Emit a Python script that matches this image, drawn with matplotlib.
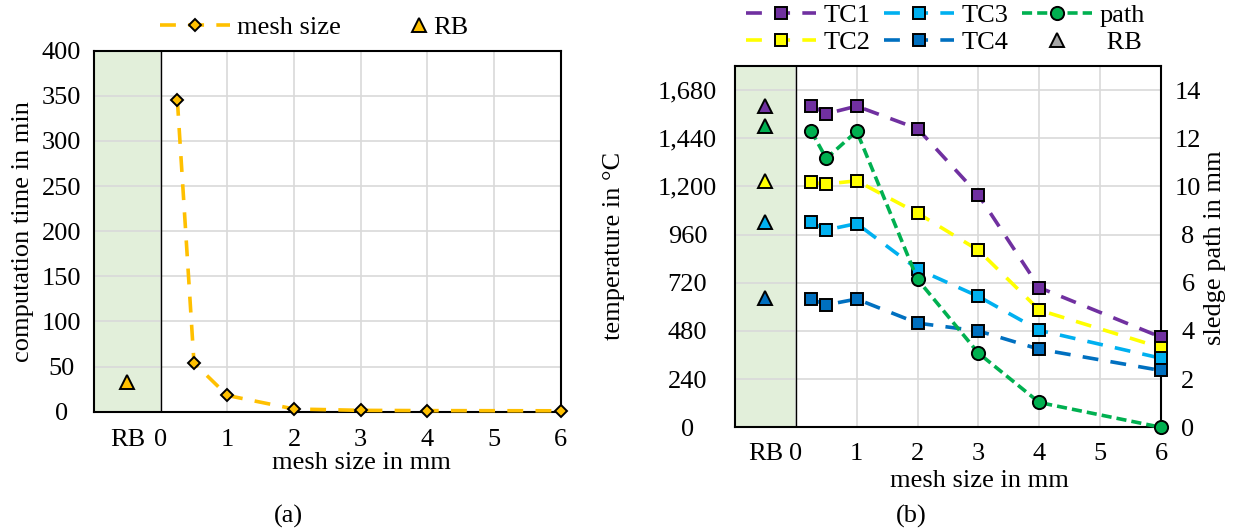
import matplotlib
matplotlib.use("Agg")
import matplotlib.pyplot as plt
from matplotlib.lines import Line2D

FS = 19
plt.rcParams['font.family'] = ['Liberation Serif', 'DejaVu Serif']
plt.rcParams['font.size'] = FS

# ---------------- data ----------------
mesh_sizes = [0.25, 0.5, 1, 2, 3, 4, 6]
comp_time = [345.5, 54, 18, 3, 1.5, 1.2, 1]
rb_comp_time = 33

tc1 = [1603, 1562, 1600, 1488, 1158, 696, 449]
tc2 = [1220, 1212, 1228, 1067, 882, 584, 397]
tc3 = [1021, 983, 1015, 788, 652, 483, 344]
tc4 = [639, 610, 639, 519, 480, 389, 283]
sledge_path = [12.31, 11.16, 12.29, 6.14, 3.08, 1.03, 0]
rb_temps = [1603, 1225, 1022, 646]      # TC1..TC4 of RB
rb_path = 12.51

rb_x = -0.5
x_ticks = [0, 1, 2, 3, 4, 5, 6]
x_tick_labels = ['0', '1', '2', '3', '4', '5', '6']
rb_label = 'RB'
time_ticks = [0, 50, 100, 150, 200, 250, 300, 350, 400]
temp_ticks = [0, 240, 480, 720, 960, 1200, 1440, 1680]
temp_tick_labels = ['0', '240', '480', '720', '960', '1,200', '1,440', '1,680']
path_ticks = [0, 2, 4, 6, 8, 10, 12, 14]

# ---------------- styles ----------------
ORANGE = '#FFC000'
PURPLE = '#7030A0'
YELLOW = '#FFFF00'
LBLUE = '#00B0F0'
BLUE = '#0070C0'
GREEN = '#00B050'
GRAY = '#A5A5A5'
RB_BG = '#E2EFDA'
GRID = '#D9D9D9'
LW = 2.6
DASH = (4.4, 3.4)
DASH_PATH = (2.8, 1.4)
EM = FS * 100 / 72.0   # font size in pixels

W, H = 1239, 531
fig = plt.figure(figsize=(W / 100, H / 100), dpi=100)


def rect(x0, x1, ytop, ybot):
    return [x0 / W, 1 - ybot / H, (x1 - x0) / W, (ybot - ytop) / H]


def style_axes(ax, ylim, yticks, ylabels, ypad, xpad):
    ax.set_xlim(-1, 6)
    ax.set_ylim(*ylim)
    ax.axvspan(-1, 0, color=RB_BG, zorder=0, lw=0)
    ax.axvline(0, color='black', lw=1.0, zorder=1.5)
    ax.set_xticks(x_ticks)
    ax.set_xticklabels(x_tick_labels)
    ax.set_xticks([rb_x], minor=True)
    ax.set_xticklabels([rb_label], minor=True)
    ax.set_yticks(yticks)
    ax.set_yticklabels(ylabels)
    ax.grid(True, which='major', color=GRID, lw=1.2, zorder=0.5)
    ax.set_axisbelow(True)
    ax.tick_params(axis='x', which='both', length=0, pad=xpad, labelsize=FS)
    ax.tick_params(axis='y', which='both', length=0, pad=ypad, labelsize=FS)
    for lab in ax.get_yticklabels():
        lab.set_horizontalalignment('center')
    for sp in ax.spines.values():
        sp.set_color('black')
        sp.set_linewidth(1.5)
        sp.set_zorder(2.5)


# ================= (a) =================
ax1 = fig.add_axes(rect(94, 560.7, 50.7, 411.7))
style_axes(ax1, (0, 400), time_ticks, [str(t) for t in time_ticks], 23.3, 12.5)
l_mesh, = ax1.plot(mesh_sizes, comp_time, color=ORANGE, lw=LW, dashes=DASH,
                   marker='D', ms=6.5, mfc=ORANGE, mec='black', mew=1.4,
                   clip_on=False, zorder=4, label='mesh size')
l_rb1, = ax1.plot([rb_x], [rb_comp_time], ls='none', marker='^', ms=9.5,
                  mfc=ORANGE, mec='black', mew=1.4, clip_on=False, zorder=4,
                  label='RB')
ax1.set_xlabel('mesh size in mm')
ax1.xaxis.label.set_va('center')
ax1.xaxis.set_label_coords(0.574, -0.142)
ax1.set_ylabel('computation time in min')
ax1.yaxis.label.set_va('center')
ax1.yaxis.set_label_coords(-0.152, 0.4997)

leg_a1 = fig.legend(handles=[l_mesh], loc='center left',
                    bbox_to_anchor=(160 / W, 1 - 27.6 / H), frameon=False,
                    borderpad=0, handlelength=70 / EM, handletextpad=7 / EM,
                    fontsize=FS, borderaxespad=0)
leg_a2 = fig.legend(handles=[l_rb1], loc='center left',
                    bbox_to_anchor=(406.5 / W, 1 - 27.6 / H), frameon=False,
                    borderpad=0, handlelength=25 / EM, handletextpad=1.5 / EM,
                    fontsize=FS, borderaxespad=0)
fig.text(288 / W, 1 - 516.6 / H, '(a)', ha='center', va='center', fontsize=FS)

# ================= (b) =================
ax = fig.add_axes(rect(735, 1161, 66, 427.3))
style_axes(ax, (0, 1800), temp_ticks, temp_tick_labels, 34.2, 11)
handles = []
for vals, col, name in [(tc1, PURPLE, 'TC1'), (tc2, YELLOW, 'TC2'),
                        (tc3, LBLUE, 'TC3'), (tc4, BLUE, 'TC4')]:
    ln, = ax.plot(mesh_sizes, vals, color=col, lw=LW, dashes=DASH, marker='s',
                  ms=9, mfc=col, mec='black', mew=1.4, clip_on=False,
                  zorder=4, label=name)
    handles.append(ln)
for val, col in zip(rb_temps, [PURPLE, YELLOW, LBLUE, BLUE]):
    ax.plot([rb_x], [val], ls='none', marker='^', ms=10, mfc=col, mec='black',
            mew=1.4, clip_on=False, zorder=4)
ax.set_xlabel('mesh size in mm')
ax.xaxis.label.set_va('center')
ax.xaxis.set_label_coords(0.573, -0.148)
ax.set_ylabel('temperature in °C')
ax.yaxis.label.set_va('center')
ax.yaxis.set_label_coords(-0.284, 0.5015)

ax2 = ax.twinx()
ax2.set_ylim(0, 15)
ax2.set_yticks(path_ticks)
ax2.set_yticklabels([str(t) for t in path_ticks])
ax2.tick_params(axis='y', length=0, pad=19.4, labelsize=FS)
for lab in ax2.get_yticklabels():
    lab.set_horizontalalignment('center')
for sp in ax2.spines.values():
    sp.set_visible(False)
l_path, = ax2.plot(mesh_sizes, sledge_path, color=GREEN, lw=LW,
                   dashes=DASH_PATH, marker='o', ms=9.5, mfc=GREEN,
                   mec='black', mew=1.4, clip_on=False, zorder=4, label='path')
ax2.plot([rb_x], [rb_path], ls='none', marker='^', ms=10, mfc=GREEN,
         mec='black', mew=1.4, clip_on=False, zorder=4)
ax2.set_ylabel('sledge path in mm')
ax2.yaxis.label.set_va('center')
ax2.yaxis.set_label_coords(1.126, 0.497)

rb_proxy = Line2D([], [], ls='none', marker='^', ms=10, mfc=GRAY,
                  mec='black', mew=1.4, label=' RB')
leg_b = fig.legend(handles=[handles[0], handles[1], handles[2], handles[3],
                            l_path, rb_proxy],
                   ncol=3, loc='center left',
                   bbox_to_anchor=(745.7 / W, 1 - 28.75 / H), frameon=False,
                   borderpad=0, handlelength=70 / EM, handletextpad=8 / EM,
                   columnspacing=13 / EM, labelspacing=0.15, fontsize=FS,
                   borderaxespad=0)
fig.text(911.4 / W, 1 - 516.4 / H, '(b)', ha='center', va='center', fontsize=FS)

fig.savefig('out.png', dpi=100)
